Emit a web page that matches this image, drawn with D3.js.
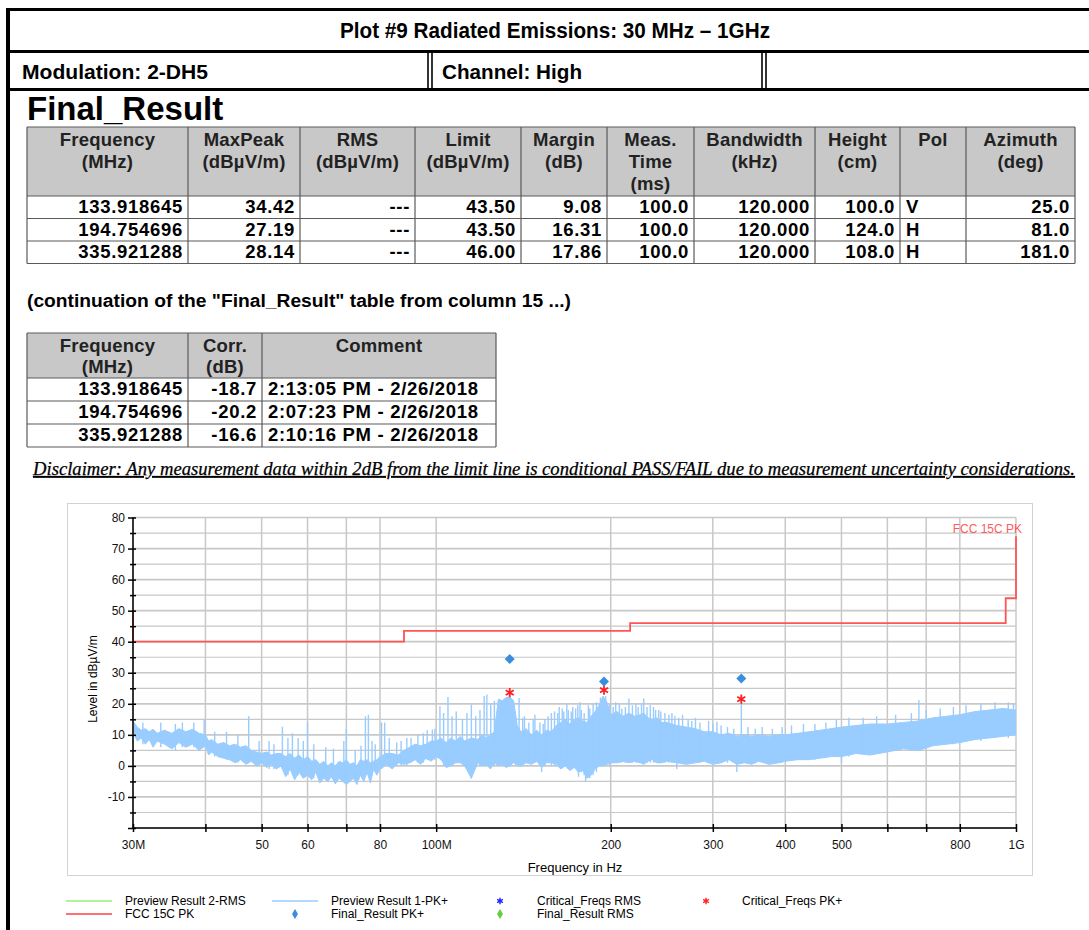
<!DOCTYPE html>
<html>
<head>
<meta charset="utf-8">
<script src="https://cdn.jsdelivr.net/npm/d3@7"></script>
<style>
  body { margin: 0; background: #fff; }
  svg { display: block; font-family: "Liberation Sans", Arial, sans-serif; }
</style>
</head>
<body>
<svg id="page" width="1089" height="930"></svg>
<script>
// ---- table data ----
const resultFreq = ["133.918645", "194.754696", "335.921288"];
const maxPeak = ["34.42", "27.19", "28.14"];
const rmsVal = ["---", "---", "---"];
const limitVal = ["43.50", "43.50", "46.00"];
const marginVal = ["9.08", "16.31", "17.86"];
const measTime = ["100.0", "100.0", "100.0"];
const bandwidth = ["120.000", "120.000", "120.000"];
const heightCm = ["100.0", "124.0", "108.0"];
const polVal = ["V", "H", "H"];
const azimuth = ["25.0", "81.0", "181.0"];
const corrVal = ["-18.7", "-20.2", "-16.6"];
const commentVal = ["2:13:05 PM - 2/26/2018", "2:07:23 PM - 2/26/2018", "2:10:16 PM - 2/26/2018"];

const table1Headers = [["Frequency", "(MHz)"], ["MaxPeak", "(dBµV/m)"], ["RMS", "(dBµV/m)"], ["Limit", "(dBµV/m)"],
  ["Margin", "(dB)"], ["Meas.", "Time", "(ms)"], ["Bandwidth", "(kHz)"], ["Height", "(cm)"], ["Pol"], ["Azimuth", "(deg)"]];
const table2Headers = [["Frequency", "(MHz)"], ["Corr.", "(dB)"], ["Comment"]];

// ---- chart data ----
const xTicks = [30, 40, 50, 60, 70, 80, 100, 200, 300, 400, 500, 600, 700, 800, 1000];
const xTickLabels = ["30M", "", "50", "60", "", "80", "100M", "200", "300", "400", "500", "", "", "800", "1G"];
const yTicks = [-20, -15, -10, -5, 0, 5, 10, 15, 20, 25, 30, 35, 40, 45, 50, 55, 60, 65, 70, 75, 80];

// FCC 15C PK limit (MHz, dBµV/m)
const limitFreq = [30, 30, 88, 88, 216, 216, 960, 960, 1000, 1000];
const limitLevel = [50, 40, 40, 43.5, 43.5, 46, 46, 54, 54, 74];

// Critical_Freqs PK+
const critPeak = [23.6, 24.4, 21.5];

// Preview Result 1-PK+ : envelope of the dense trace
const traceFreq = [30, 30.5, 31, 31.5, 32, 32.5, 33, 34, 35, 36, 37, 38, 39, 40, 40.5, 41, 42, 43, 44, 45, 46, 47, 48, 49,
  50, 51, 52, 53, 54, 55, 56, 57, 58, 59, 60, 61, 62, 63, 64, 65, 66, 67, 68, 69, 70, 71, 72, 73, 74, 75, 76, 77, 78, 79,
  80, 81, 82, 84, 86, 88, 90, 92, 94, 96, 98, 100, 102, 104, 106, 108, 110, 112, 115, 118, 120, 122, 124, 126, 128, 130,
  132, 134, 136, 138, 140, 143, 146, 149, 152, 155, 158, 161, 164, 167, 170, 173, 176, 179, 182, 185, 188, 191, 194, 197,
  200, 205, 210, 215, 220, 225, 228, 232, 236, 240, 245, 250, 260, 270, 280, 290, 300, 310, 320, 330, 340, 350, 360, 375,
  390, 400, 420, 440, 460, 480, 500, 530, 560, 600, 640, 680, 720, 760, 800, 850, 900, 950, 1000];
const traceHigh = [14.5, 12.5, 11.5, 12, 11, 11.8, 10.5, 11.5, 10.5, 12, 11, 11.8, 10.5, 10, 8, 8.5, 7, 7.5, 6.5, 7, 6, 6.5, 5, 4.5,
  4, 4.5, 3.5, 4, 4, 3, 4, 2.5, 3.5, 2, 3, 1.5, 2, 0.5, 1.5, 0, 1, 0, 1.5, 1, 2, 0.5, 1, 0, 2, 1.5, 2, 1, 1.5, 2,
  3, 3.5, 4, 4, 3.5, 5, 6, 7, 6.5, 7, 8, 8, 9, 7.5, 9, 8, 9.5, 8, 9, 8.5, 10, 9, 10, 11, 21.5, 21,
  22, 22.2, 21, 13, 11, 12, 10, 11.5, 10, 11.5, 11, 13, 14, 15, 13.5, 15, 15.5, 14.5, 14, 16, 17.5, 19.5, 22.5, 20.5,
  16.5, 17.5, 16, 17, 16, 16.5, 17, 15.5, 15, 15.5, 14, 14, 13, 12.5, 12, 11, 11, 10, 10.5, 9.5, 10, 9.5, 10, 9.5,
  10, 10, 10.5, 11, 11.5, 12, 12.5, 13, 13.5, 13.5, 14, 14.5, 15.5, 16, 16.5, 17.5, 18, 18.5, 18];
const traceLow = [11, 8, 9, 7, 8.5, 6, 8, 7, 5.5, 7.5, 6, 7, 5, 6.5, 3.5, 4.5, 3, 2.5, 2, 1, 2, 0.5, 1.5, 0,
  1, -0.5, 0.5, -1, 0, -3.5, -1, -4.5, -2, -4, -3, -4.5, -2, -5.5, -4, -5, -3.5, -5.8, -4, -5, -6, -5, -4, -6, -3, -5, -2, -5.5, -1, -3,
  -1, -0.5, 0.5, -1, 1, 0.5, 1, 2, 0.5, 2.5, 1.5, 3, 2, -0.5, 0, 1, 1, 0, -4, 1, 0, 0.5, -1, 1, 0, 0.5,
  -0.5, 0, 1, 0, 0, 1, 0.5, 1.5, -0.5, 1, 1, 0.5, -1, 0, -1.5, -0.5, -2, -1.5, -4, -3, -1, 0, 0, 0.5,
  1, 1, 1.5, 1, 1.5, 1, 0.5, 1.5, 2, 1, 1, 1.5, 1, 0.5, 1, 1.5, 0.5, 1, 2, 0.5, 1, 0.5, 1.5, 0.5,
  1, 1.5, 2, 2, 2.5, 3, 3, 4, 3.5, 4.5, 5.5, 5, 6.5, 7, 7.5, 8.5, 9, 9.5, 10];

// narrow spikes of the same trace (MHz, top dB, bottom dB)
const spikeFreq = [31.2, 33.5, 35.5, 36.5, 38.2, 39.8, 41.5, 43.5, 45.5, 47.5, 49.5, 51.5, 52.5,
  54.3, 55.5, 56.5, 57.8, 59, 60, 61.5, 64.5, 66.5, 69.3, 70, 72.5, 74.2, 75.5, 76.4, 77.5, 78.5,
  80.5, 81.5, 83, 85.5, 87, 89, 90.5, 93, 95, 96.5, 98.5, 99.5,
  101.5, 103, 104.8, 106.5, 108.3, 111, 113, 115, 117, 119, 121, 122.3, 124.2, 126,
  139, 141, 142, 144.5, 147, 148, 151, 152, 153, 154, 156, 158, 160, 162, 163, 165, 166, 168, 169, 171, 172, 174,
  175.5, 176, 177, 178, 180, 181, 183, 184, 186.5, 189, 192, 196, 199,
  202, 204, 207, 209, 212, 215, 218, 221, 223, 226, 228, 231, 234, 237, 239, 242, 244, 248, 252, 255, 258, 260, 262,
  266, 272, 276, 280, 285, 295, 300, 305, 310, 318, 326, 330, 336, 345, 355, 365, 380, 395, 410, 430, 450, 470, 490,
  500, 515, 545, 575, 620, 660, 680, 700, 740, 780, 820, 870, 920, 970, 990];
const spikeTop = [14, 14, 13.5, 14, 14, 15, 11, 11, 10, 16, 8, 8, 7,
  12.6, 9, 10.5, 9, 8, 14, 7, 6, 5.5, 8, 11.7, 5, 6.5, 16, 16.5, 8, 7,
  14, 14, 9, 7.5, 8, 9, 9, 10, 10.5, 11.5, 11.7, 12,
  19.2, 17, 22.2, 16, 17.5, 15, 17, 19.8, 16, 18, 22.5, 23, 20, 21,
  21.9, 15.5, 16, 14, 15, 16.5, 14, 8, 13.5, 15, 16, 17, 17.5, 17, 19, 18.5, 17.5, 20, 18, 17.5, 19, 18.5,
  19.5, 10, 20.5, 18, 17, 10, 19.5, 18.5, 20, 20.5, 22, 22.5, 20,
  19, 20.5, 20, 18.5, 19, 21.7, 19.5, 20, 19, 20, 21.7, 19, 19.5, 19, 18, 18, 17.5, 17, 16.5, 17, 16, 8, 15.5,
  16.5, 15, 14.5, 15.5, 14, 14.5, 13.5, 14.2, 13, 12.5, 12, 8, 21.7, 12.5, 12, 12.5, 12, 12.5, 13, 13.5, 13.5, 14, 15,
  9, 15.5, 15.5, 16, 16.5, 17, 21.2, 18, 18.5, 19, 19.5, 20, 20.5, 20.5, 20];
const spikeLow = [7, 6, 5, 6, 6, 6, 3, 2, 1, 2, 0, -1, -1,
  -1, -3, -2, -3, -3, -3, -4, -4, -4, -5, -4, -4, -3, -3, -3, -3, -2,
  -1, 0, 0, 0, 0, 0, 1, 1, 1, 2, 2, 2,
  3, 0, 0, 0, 1, 1, 0, -4, 0, 0, 0, 0, 0, 0,
  1, 2, 1, 1, 1, 1, 0, -2, 1, 0, 1, 0, 0, 0, 0, 0, 0, 0, -1, -1, 0, 0,
  -2, -3.5, -2, -2, -3, -5, -3, -4, -3, -2, 0, 0, 0,
  1, 1, 1, 1, 1, 1, 1, 1, 1, 1, 1, 1, 1, 1, 1, 1, 1, 1, 1, 1, 1, -1, 1,
  1, 1, 1, 1, 1, 1, 1, 2, 1, 1, 1, -2, 5, 1, 1, 1, 1, 1, 2, 2, 2, 3, 3,
  1, 3, 4, 4, 5, 5, 8, 6, 7, 7, 8, 8, 9, 9, 10];

const legendRow1 = ["Preview Result 2-RMS", "Preview Result 1-PK+", "Critical_Freqs RMS", "Critical_Freqs PK+"];
const legendRow2 = ["FCC 15C PK", "Final_Result PK+", "Final_Result RMS"];

const svg = d3.select("#page");
svg.append("rect").attr("width", 1089).attr("height", 930).attr("fill", "#fff");

// ---------- page frame ----------
const frame = svg.append("g").attr("stroke", "#000").attr("fill", "none");
frame.append("line").attr("x1", 6).attr("x2", 1089).attr("y1", 9.5).attr("y2", 9.5).attr("stroke-width", 3);
frame.append("line").attr("x1", 8).attr("x2", 8).attr("y1", 8).attr("y2", 930).attr("stroke-width", 4);
frame.append("line").attr("x1", 6).attr("x2", 1089).attr("y1", 51.5).attr("y2", 51.5).attr("stroke-width", 3);
frame.append("line").attr("x1", 6).attr("x2", 1089).attr("y1", 89.5).attr("y2", 89.5).attr("stroke-width", 3);
[428, 432, 762, 766].forEach(xv => {
  frame.append("line").attr("x1", xv).attr("x2", xv).attr("y1", 52).attr("y2", 89).attr("stroke-width", 1.6);
});

svg.append("text").attr("x", 555).attr("y", 38).attr("text-anchor", "middle")
  .attr("font-size", 22).attr("font-weight", "bold")
  .attr("textLength", 430).attr("lengthAdjust", "spacingAndGlyphs")
  .text("Plot #9 Radiated Emissions: 30 MHz – 1GHz");
svg.append("text").attr("x", 22).attr("y", 79).attr("font-size", 21).attr("font-weight", "bold")
  .attr("textLength", 186).attr("lengthAdjust", "spacingAndGlyphs").text("Modulation: 2-DH5");
svg.append("text").attr("x", 442).attr("y", 79).attr("font-size", 21).attr("font-weight", "bold")
  .attr("textLength", 140).attr("lengthAdjust", "spacingAndGlyphs").text("Channel: High");

svg.append("text").attr("x", 27).attr("y", 120).attr("font-size", 33).attr("font-weight", "bold")
  .text("Final_Result");

// ---------- tables ----------
function drawTable(cols, headTop, headBottom, rowEdges, headers, headGap, columns, aligns) {
  const g = svg.append("g").attr("font-weight", "bold").attr("font-size", 18.5);
  g.append("rect").attr("x", cols[0]).attr("y", headTop)
    .attr("width", cols[cols.length - 1] - cols[0]).attr("height", headBottom - headTop)
    .attr("fill", "#c8c8c8");
  const bottom = rowEdges[rowEdges.length - 1];
  cols.forEach(c => g.append("line").attr("x1", c).attr("x2", c).attr("y1", headTop).attr("y2", bottom)
    .attr("stroke", "#5a5a5a").attr("stroke-width", 1.2));
  [headTop, headBottom].concat(rowEdges.slice(1)).forEach(r => g.append("line")
    .attr("x1", cols[0]).attr("x2", cols[cols.length - 1]).attr("y1", r).attr("y2", r)
    .attr("stroke", "#5a5a5a").attr("stroke-width", 1.2));
  headers.forEach((lines, i) => {
    lines.forEach((s, k) => g.append("text")
      .attr("x", (cols[i] + cols[i + 1]) / 2).attr("y", headTop + 19 + k * headGap)
      .attr("text-anchor", "middle").attr("fill", "#222").attr("letter-spacing", 0.2).text(s));
  });
  columns.forEach((vals, i) => {
    vals.forEach((s, r) => {
      const left = aligns[i] === "start";
      g.append("text")
        .attr("x", left ? cols[i] + 6 : cols[i + 1] - 5)
        .attr("y", rowEdges[r] + 17)
        .attr("letter-spacing", 0.7)
        .attr("text-anchor", left ? "start" : "end").text(s);
    });
  });
}

drawTable([27, 188, 300, 415, 521, 607, 694, 815, 900, 966, 1075], 127, 196, [196, 218.5, 241, 263.5],
  table1Headers, 22,
  [resultFreq, maxPeak, rmsVal, limitVal, marginVal, measTime, bandwidth, heightCm, polVal, azimuth],
  ["end", "end", "end", "end", "end", "end", "end", "end", "start", "end"]);

svg.append("text").attr("x", 27).attr("y", 307).attr("font-size", 17.5).attr("font-weight", "bold")
  .attr("textLength", 544).attr("lengthAdjust", "spacingAndGlyphs")
  .text("(continuation of the \"Final_Result\" table from column  15 ...)");

drawTable([27, 188, 262, 496], 333, 378, [378, 401, 424, 447], table2Headers, 21,
  [resultFreq, corrVal, commentVal], ["end", "end", "start"]);

svg.append("text").attr("x", 33).attr("y", 475).attr("font-size", 18).attr("font-style", "italic")
  .attr("font-family", "'Liberation Serif', 'Times New Roman', serif")
  .attr("text-decoration", "underline").attr("stroke", "#000").attr("stroke-width", 0.25)
  .attr("textLength", 1042).attr("lengthAdjust", "spacingAndGlyphs")
  .text("Disclaimer: Any measurement data within 2dB from the limit line is conditional PASS/FAIL due to measurement uncertainty considerations.");

// ---------- chart ----------
const plot = { left: 133, right: 1016, top: 517.5, bottom: 828 };
const x = d3.scaleLog().domain([30, 1000]).range([plot.left, plot.right]);
const y = d3.scaleLinear().domain([-20, 80]).range([plot.bottom, plot.top]);

const chart = svg.append("g");
chart.append("rect").attr("x", 67.5).attr("y", 503.5).attr("width", 965).attr("height", 372)
  .attr("fill", "#fff").attr("stroke", "#d2d2d2");

chart.append("g").selectAll("line").data(yTicks).join("line")
  .attr("x1", plot.left).attr("x2", plot.right)
  .attr("y1", d => y(d)).attr("y2", d => y(d))
  .attr("stroke", "#c8c8c8").attr("stroke-width", d => d % 10 === 0 ? 1.7 : 1.2);
chart.append("g").selectAll("line").data(xTicks).join("line")
  .attr("x1", d => x(d)).attr("x2", d => x(d))
  .attr("y1", plot.top).attr("y2", plot.bottom)
  .attr("stroke", "#c8c8c8").attr("stroke-width", 1.5);

svg.append("defs").append("clipPath").attr("id", "plotclip").append("rect")
  .attr("x", plot.left).attr("y", plot.top).attr("width", plot.right - plot.left).attr("height", plot.bottom - plot.top);

const traceData = traceFreq.map((f, i) => ({ f: f, hi: traceHigh[i], lo: traceLow[i] }));
const traceG = chart.append("g").attr("clip-path", "url(#plotclip)");
traceG.append("path").datum(traceData)
  .attr("d", d3.area().x(d => x(d.f)).y0(d => y(d.lo)).y1(d => y(d.hi)))
  .attr("fill", "#99ccff").attr("stroke", "#99ccff").attr("stroke-width", 1);
traceG.selectAll("line.spike").data(spikeFreq).join("line").attr("class", "spike")
  .attr("x1", d => x(d)).attr("x2", d => x(d))
  .attr("y1", (d, i) => y(spikeTop[i])).attr("y2", (d, i) => y(spikeLow[i]))
  .attr("stroke", "#99ccff").attr("stroke-width", 1.4);

// limit line
const limitData = limitFreq.map((f, i) => ({ f: f, v: limitLevel[i] }));
chart.append("path").datum(limitData)
  .attr("d", d3.line().x(d => x(d.f)).y(d => y(d.v)))
  .attr("fill", "none").attr("stroke", "#ff5555").attr("stroke-width", 1.8);
chart.append("text").attr("x", 1022).attr("y", 533).attr("text-anchor", "end")
  .attr("font-size", 12).attr("fill", "#ff5a5a").text("FCC 15C PK");

// markers
const finalFreq = resultFreq.map(Number);
const finalPeak = maxPeak.map(Number);
const diamond = r => `M0,${-r}L${r},0L0,${r}L${-r},0Z`;
chart.selectAll("path.crit").data(finalFreq).join("path").attr("class", "crit")
  .attr("transform", (d, i) => `translate(${x(d)},${y(critPeak[i])})`)
  .attr("d", d3.symbol(d3.symbolAsterisk, 60)())
  .attr("fill", "none").attr("stroke", "#ff2020").attr("stroke-width", 1.8);
chart.selectAll("path.fin").data(finalFreq).join("path").attr("class", "fin")
  .attr("transform", (d, i) => `translate(${x(d)},${y(finalPeak[i])})`)
  .attr("d", diamond(5))
  .attr("fill", "#3a8edb");

// axes
const yAxis = chart.append("g").attr("transform", `translate(${plot.left},0)`)
  .call(d3.axisLeft(y).tickValues(yTicks).tickSize(5).tickPadding(3)
    .tickFormat(d => (d % 10 === 0 && d > -20) ? d : ""));
yAxis.select(".domain").attr("stroke", "#000").attr("stroke-width", 1.5).attr("d", `M0,${plot.top}V${plot.bottom}`);
yAxis.selectAll(".tick line").attr("x1", 3).attr("stroke-width", 1.5).attr("x2", d => d % 10 === 0 ? -5 : -3);
yAxis.selectAll(".tick text").attr("font-size", 12).attr("font-family", "'Liberation Sans', Arial, sans-serif").attr("fill", "#111");

const xAxis = chart.append("g").attr("transform", `translate(0,${plot.bottom})`)
  .call(d3.axisBottom(x).tickValues(xTicks).tickSize(4).tickPadding(8)
    .tickFormat((d, i) => xTickLabels[i]));
xAxis.select(".domain").attr("stroke", "#000").attr("stroke-width", 1.5).attr("d", `M${plot.left},0H${plot.right}`);
xAxis.selectAll(".tick line").attr("y1", -4).attr("stroke-width", 1.5);
xAxis.selectAll(".tick text").attr("font-size", 12).attr("font-family", "'Liberation Sans', Arial, sans-serif").attr("fill", "#111");

chart.append("text").attr("transform", "translate(97,679) rotate(-90)").attr("text-anchor", "middle")
  .attr("font-size", 12).text("Level in dBµV/m");
chart.append("text").attr("x", 575).attr("y", 872).attr("text-anchor", "middle")
  .attr("font-size", 13).text("Frequency in Hz");

// ---------- legend ----------
const leg = svg.append("g").attr("font-size", 12);
const row1X = [66, 272, 500, 706];
const row2X = [66, 295, 500];
const row1TextX = [125, 331, 537, 742];
const row2TextX = [125, 331, 537];
leg.append("line").attr("x1", row1X[0]).attr("x2", row1X[0] + 46).attr("y1", 901).attr("y2", 901)
  .attr("stroke", "#99ee77").attr("stroke-width", 1.5);
leg.append("line").attr("x1", row1X[1]).attr("x2", row1X[1] + 46).attr("y1", 901).attr("y2", 901)
  .attr("stroke", "#99ccff").attr("stroke-width", 1.5);
leg.append("path").attr("transform", `translate(${row1X[2]},901)`).attr("d", d3.symbol(d3.symbolAsterisk, 30)())
  .attr("fill", "none").attr("stroke", "#2020ff").attr("stroke-width", 1.4);
leg.append("path").attr("transform", `translate(${row1X[3]},901)`).attr("d", d3.symbol(d3.symbolAsterisk, 30)())
  .attr("fill", "none").attr("stroke", "#ff2020").attr("stroke-width", 1.4);
leg.append("line").attr("x1", row2X[0]).attr("x2", row2X[0] + 46).attr("y1", 914).attr("y2", 914)
  .attr("stroke", "#ff4040").attr("stroke-width", 1.5);
leg.append("path").attr("transform", `translate(${row2X[1]},914)`).attr("d", "M0,-5L3,0L0,5L-3,0Z")
  .attr("fill", "#3a8edb");
leg.append("path").attr("transform", `translate(${row2X[2]},914)`).attr("d", "M0,-5L3,0L0,5L-3,0Z")
  .attr("fill", "#66cc44");
legendRow1.forEach((s, i) => leg.append("text").attr("x", row1TextX[i]).attr("y", 905).text(s));
legendRow2.forEach((s, i) => leg.append("text").attr("x", row2TextX[i]).attr("y", 918).text(s));
</script>
</body>
</html>
